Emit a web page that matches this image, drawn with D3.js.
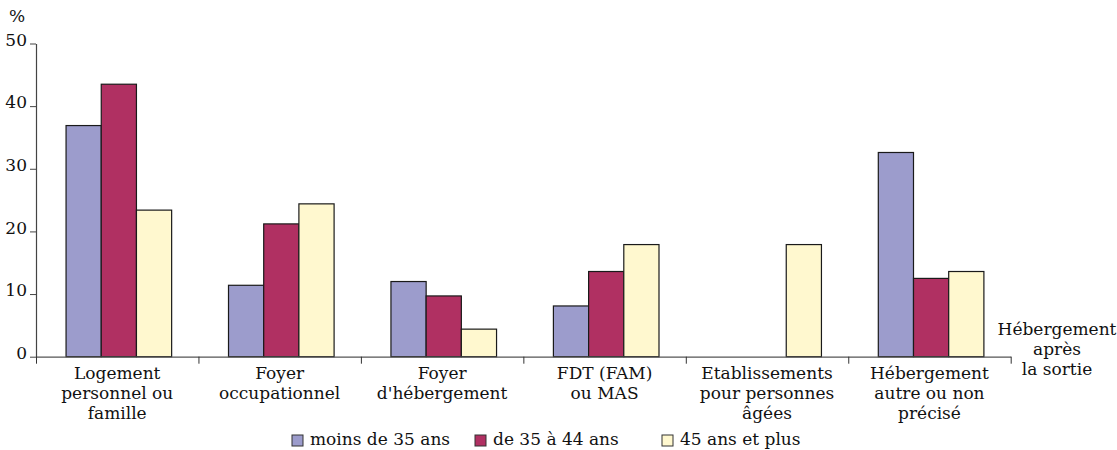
<!DOCTYPE html>
<html><head><meta charset="utf-8">
<script src="https://cdn.jsdelivr.net/npm/d3@7"></script>
<style>
body{margin:0;background:#fff;}
</style></head>
<body><svg id="c" width="1117" height="450"></svg>
<script>
const categories = ["Logement|personnel ou|famille","Foyer|occupationnel","Foyer|d'hébergement","FDT (FAM)|ou MAS","Etablissements|pour personnes|âgées","Hébergement|autre ou non|précisé"];
const seriesNames = ["moins de 35 ans","de 35 à 44 ans","45 ans et plus"];
const moins35 = [36.9, 11.4, 12.0, 8.1, 0, 32.6];
const de35a44 = [43.5, 21.2, 9.7, 13.6, 0, 12.5];
const plus45  = [23.4, 24.4, 4.4, 17.9, 17.9, 13.6];
const yTicks = [0,10,20,30,40,50];
const xTitle = ["Hébergement","après","la sortie"];
const colors = ["#9c9ccc","#b03062","#fff8cf"];

const FONT = "DejaVu Serif";
const FS = 17;
const seriesValues = [moins35, de35a44, plus45];
const svg = d3.select("#c").style("font-family", FONT);
const mLeft = 36, mRight = 1010.7, mBase = 356.7, mTop = 43.5;
const x0 = d3.scaleBand().domain(categories).range([mLeft, mRight]).paddingInner(0).paddingOuter(0);
const bw = x0.bandwidth();
const x1 = d3.scaleBand().domain(seriesNames).range([bw*0.185, bw*0.835]).padding(0);
const y = d3.scaleLinear().domain([0,50]).range([mBase, mTop]);

// bars
categories.forEach((c, i) => {
  const g = svg.append("g").attr("transform", `translate(${x0(c)},0)`);
  seriesNames.forEach((s, j) => {
    const v = seriesValues[j][i];
    if (v <= 0) return;
    g.append("rect")
      .attr("x", x1(s)).attr("y", y(v))
      .attr("width", x1.bandwidth()).attr("height", y(0) - y(v))
      .attr("fill", colors[j]).attr("stroke", "#1a1a1a").attr("stroke-width", 1.2);
  });
});

// y axis
const yAxis = svg.append("g").attr("transform", `translate(${mLeft},0)`)
  .call(d3.axisLeft(y).tickValues(yTicks).tickSize(6).tickSizeOuter(0).tickPadding(3));
yAxis.attr("font-family", null).attr("font-size", FS);
yAxis.select(".domain").attr("stroke", "#444").attr("stroke-width", 1.2);
yAxis.selectAll(".tick line").attr("stroke", "#444");
yAxis.selectAll(".tick text").attr("dy", "0.1em").attr("fill", "#111").style("font-family", FONT);

// x axis (band boundaries)
const xb = d3.scaleLinear().domain([0, categories.length]).range([mLeft, mRight]);
const xAxis = svg.append("g").attr("transform", `translate(0,${mBase})`)
  .call(d3.axisBottom(xb).tickValues(d3.range(categories.length + 1)).tickSize(7).tickSizeOuter(0).tickFormat(""));
xAxis.select(".domain").attr("stroke", "#555").attr("stroke-width", 1.3);
xAxis.selectAll(".tick line").attr("stroke", "#333");

// category labels
categories.forEach(c => {
  const lines = c.split("|");
  const t = svg.append("text").attr("text-anchor", "middle").attr("font-size", FS).attr("fill", "#111")
    .style("font-family", FONT).attr("x", x0(c) + bw/2).attr("y", 379);
  lines.forEach((l, k) => t.append("tspan").attr("x", x0(c) + bw/2).attr("dy", k ? 20 : 0).text(l));
});

// axis titles
svg.append("text").attr("x", 9).attr("y", 22).attr("font-size", FS).attr("fill", "#111").style("font-family", FONT).text("%");
xTitle.forEach((l, k) => svg.append("text").attr("text-anchor", "middle").attr("font-size", FS).attr("fill", "#111")
  .style("font-family", FONT).attr("x", 1057).attr("y", 335 + k * 20).text(l));

// legend
const legX = [292, 475, 662];
seriesNames.forEach((s, j) => {
  svg.append("rect").attr("x", legX[j]).attr("y", 435).attr("width", 11).attr("height", 11)
    .attr("fill", colors[j]).attr("stroke", "#333").attr("stroke-width", 1);
  svg.append("text").attr("x", legX[j] + 18).attr("y", 445).attr("font-size", FS).attr("fill", "#111")
    .style("font-family", FONT).text(s);
});
</script></body></html>
